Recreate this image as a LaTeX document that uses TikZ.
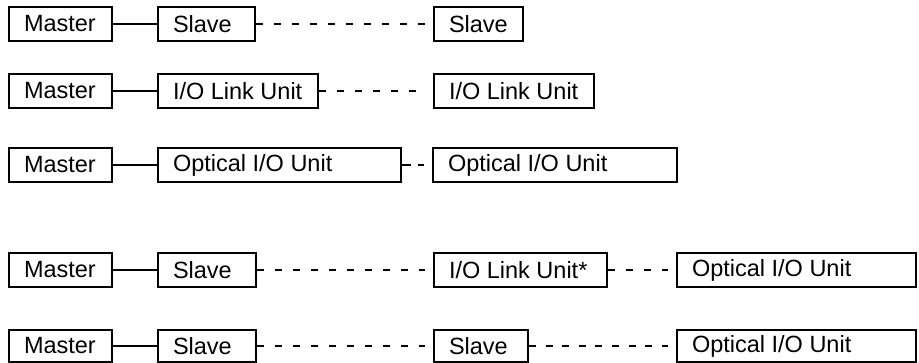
\documentclass[tikz,border=0pt]{standalone}
\usepackage{fontspec}
\setmainfont{Liberation Sans}
\newcommand{\lbox}[2]{\makebox[#1pt][l]{#2}}
\begin{document}
\begin{tikzpicture}[x=1pt,y=-1pt,
  box/.style={draw, line width=2pt, anchor=west, inner xsep=15pt, inner ysep=0pt,
    minimum height=34pt, font=\fontsize{23.5}{28}\selectfont},
  solidlink/.style={line width=2pt},
  dashlink/.style={line width=2pt, dash pattern=on 7pt off 11pt, shorten >=8pt}]
\useasboundingbox (0,0) rectangle (919,363);
% row 1
\node[box] (m1) at (8,24) {\lbox{73}{Master}};
\node[box] (a1) at (157,24) {\lbox{67}{Slave}};
\node[box] (b1) at (433,24) {\lbox{59}{Slave}};
\draw[solidlink] (m1.east) -- (a1.west);
\draw[dashlink] (a1.east) -- (b1.west);
% row 2
\node[box] (m2) at (8,91) {\lbox{73}{Master}};
\node[box] (a2) at (157,91) {\lbox{130}{I/O Link Unit}};
\node[box] (b2) at (433,91) {\lbox{130}{I/O Link Unit}};
\draw[solidlink] (m2.east) -- (a2.west);
\draw[dashlink] (a2.east) -- (b2.west);
% row 3
\node[box] (m3) at (8,165) {\lbox{73}{Master}};
\node[box] (a3) at (157,165) {\lbox{213}{Optical I/O Unit}};
\node[box] (b3) at (432,165) {\lbox{214}{Optical I/O Unit}};
\draw[solidlink] (m3.east) -- (a3.west);
\draw[line width=2pt, dash pattern=on 9pt off 7pt on 6pt off 20pt] (a3.east) -- (b3.west);
% row 4
\node[box] (m4) at (8,270) {\lbox{73}{Master}};
\node[box] (a4) at (157,270) {\lbox{68}{Slave}};
\node[box] (b4) at (433,270) {\lbox{143}{I/O Link Unit*}};
\node[box] (c4) at (676,270) {\lbox{209}{Optical I/O Unit}};
\draw[solidlink] (m4.east) -- (a4.west);
\draw[dashlink] (a4.east) -- (b4.west);
\draw[dashlink] (b4.east) -- (c4.west);
% row 5
\node[box, minimum height=32pt] (m5) at (8,346) {\lbox{73}{Master}};
\node[box, minimum height=32pt] (a5) at (157,346) {\lbox{68}{Slave}};
\node[box, minimum height=32pt] (b5) at (433,346) {\lbox{64}{Slave}};
\node[box, minimum height=32pt] (c5) at (676,346) {\lbox{209}{Optical I/O Unit}};
\draw[solidlink] (m5.east) -- (a5.west);
\draw[dashlink] (a5.east) -- (b5.west);
\draw[dashlink, dash pattern=on 7pt off 9.6pt] (b5.east) -- (c5.west);
\end{tikzpicture}
\end{document}
